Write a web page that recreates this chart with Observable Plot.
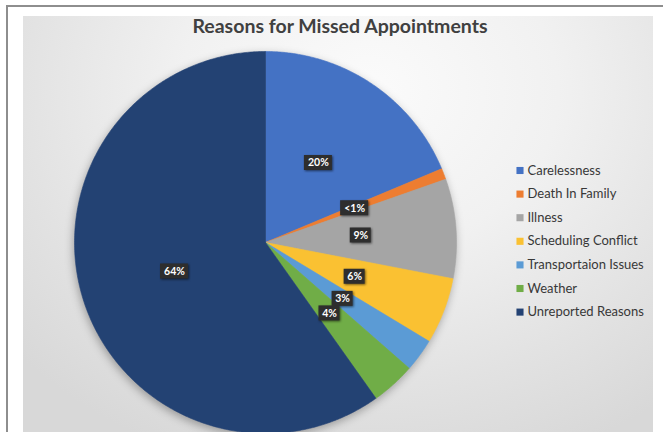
<!DOCTYPE html>
<html><head><meta charset="utf-8">
<script src="https://cdn.jsdelivr.net/npm/d3@7"></script>
<script src="https://cdn.jsdelivr.net/npm/@observablehq/plot@0.6"></script>
<style>
html,body{margin:0;padding:0;width:663px;height:432px;overflow:hidden;background:#fff;}
#frame{position:absolute;left:6px;top:5px;width:720px;height:500px;border-left:2px solid #8e8e8e;border-top:2px solid #8e8e8e;}
#panel{position:absolute;left:23px;top:16px;width:630px;height:416px;
  background:radial-gradient(ellipse 75% 95% at 55% 18%, #fbfbfb 0%, #f1f1f1 40%, #e2e2e2 75%, #d8d8d8 100%);}
#chart{position:absolute;left:0;top:0;}
#title{position:absolute;left:0;width:680px;top:14px;text-align:center;font-family:Lato,sans-serif;font-weight:bold;font-size:19.5px;color:#404040;}
#chart g[aria-label="line"]{filter:drop-shadow(-1px 3px 4px rgba(0,0,0,0.3));}
#chart g[aria-label="rect"]{filter:drop-shadow(1px 1px 1.2px rgba(0,0,0,0.55));}
</style>
</head><body>
<div id="frame"></div>
<div id="panel"></div>
<div id="chart"></div>
<div id="title">Reasons for Missed Appointments</div>
<script>
const categories = ["Carelessness","Death In Family","Illness","Scheduling Conflict","Transportaion Issues","Weather","Unreported Reasons"];
const values = [20, 1, 9, 6, 3, 4, 64];
const labels = ["20%","<1%","9%","6%","3%","4%","64%"];
const colors = ["#4472C4","#ED7D31","#A5A5A5","#FAC132","#5B9BD5","#70AD47","#234273"];

// layout
const W = 663, H = 432;
const cx = 265, cy = 242, R = 191;

const arcs = d3.pie().sort(null).value(d => d)(values);

// polygons for slices
const slicePts = [];
arcs.forEach((a, i) => {
  const name = categories[i];
  slicePts.push({name, px: cx, py: cy});
  const n = Math.max(2, Math.ceil((a.endAngle - a.startAngle) / (Math.PI / 360)));
  for (let k = 0; k <= n; k++) {
    const t = a.startAngle + (a.endAngle - a.startAngle) * k / n;
    slicePts.push({name, px: cx + R * Math.sin(t), py: cy - R * Math.cos(t)});
  }
  slicePts.push({name, px: cx, py: cy});
});

// data labels at half radius
const labelData = arcs.map((a, i) => {
  const m = (a.startAngle + a.endAngle) / 2;
  return {label: labels[i], px: cx + 0.5 * R * Math.sin(m), py: cy - 0.5 * R * Math.cos(m), w: 7 + 7 * labels[i].length};
});

const legendData = categories.map((c, i) => ({name: c, py: 170 + i * 23.6}));

const plot = Plot.plot({
  width: W, height: H, margin: 0,
  x: {domain: [0, W], range: [0, W], axis: null},
  y: {domain: [0, H], range: [0, H], axis: null},
  color: {domain: categories, range: colors},
  style: {background: "transparent", fontFamily: "Lato, sans-serif"},
  marks: [
    Plot.line(slicePts, {x: "px", y: "py", z: "name", fill: "name", stroke: "name", strokeWidth: 0.6, curve: "linear"}),
    Plot.rect(labelData, {x1: d => d.px - d.w / 2, x2: d => d.px + d.w / 2, y1: d => d.py - 7.5, y2: d => d.py + 7.5, fill: "#2e2e2e"}),
    Plot.text(labelData, {x: "px", y: "py", text: "label", fill: "white", fontWeight: "bold", fontSize: 10.5}),
    Plot.dot(legendData, {x: 519.5, y: "py", symbol: "square", r: 4, fill: "name"}),
    Plot.text(legendData, {x: 527, y: "py", text: "name", textAnchor: "start", fontSize: 13, fill: "#383838"})
  ]
});
document.getElementById("chart").appendChild(plot);
</script>
</body></html>
